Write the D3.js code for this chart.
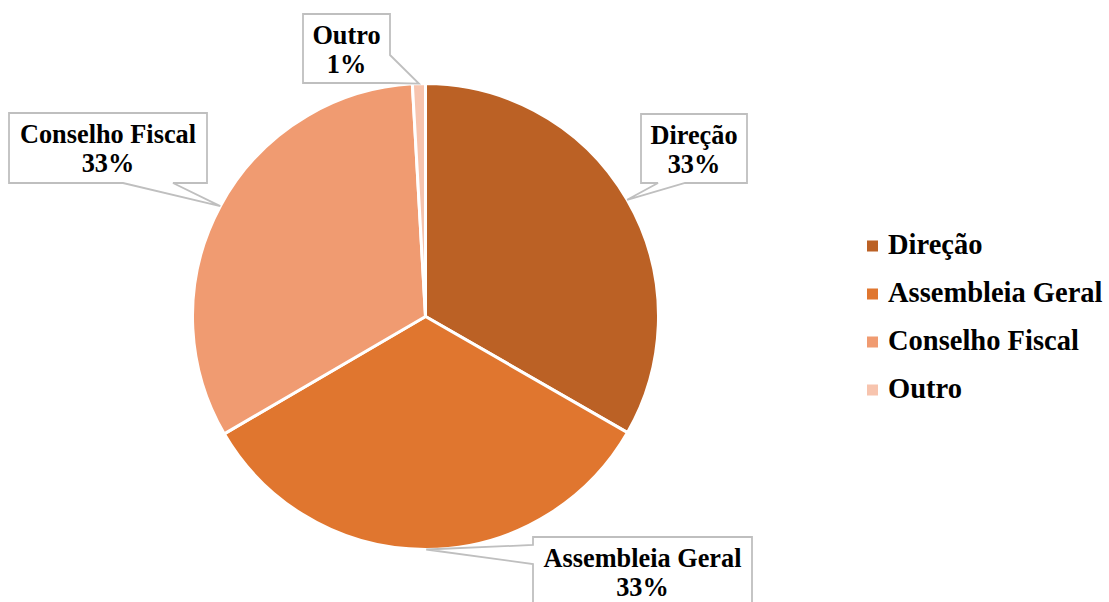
<!DOCTYPE html>
<html>
<head>
<meta charset="utf-8">
<script src="https://cdn.jsdelivr.net/npm/d3@7"></script>
<style>
  html, body { margin: 0; padding: 0; background: #fff; }
  svg { display: block; }
  text { font-family: "Liberation Serif", "Times New Roman", serif; font-weight: bold; fill: #000; }
</style>
</head>
<body>
<svg id="chart" width="1109" height="602"></svg>
<script>
// Composition of the governing bodies (percentage shares)
const categories = ["Direção", "Assembleia Geral", "Conselho Fiscal", "Outro"];
const shares = [33.3, 33.3, 32.5, 0.9];
const palette = ["#BB6125", "#E0762F", "#F09B71", "#F7C4AE"];

// Callout boxes: rectangle plus the side and span where the pointer leaves it
const callouts = [
  { x: 641, y: 114, w: 106, h: 69, side: "bottom", a: 658, b: 685 },
  { x: 533, y: 537, w: 219, h: 69, side: "left",   a: 545, b: 564 },
  { x: 9,   y: 113, w: 198, h: 70, side: "bottom", a: 123, b: 173 },
  { x: 303, y: 14,  w: 87,  h: 69, side: "right",  a: 55,  b: 83 }
];

const svg = d3.select("#chart");
const cx = 425.5, cy = 316.5, radius = 233;

const total = d3.sum(shares);
const pie = d3.pie().sort(null).value(d => d)(shares);
const arc = d3.arc().innerRadius(0).outerRadius(radius);
const color = d3.scaleOrdinal().domain(categories).range(palette);

const g = svg.append("g").attr("transform", `translate(${cx},${cy})`);

g.selectAll("path.slice")
  .data(pie)
  .join("path")
  .attr("class", "slice")
  .attr("d", arc)
  .attr("fill", (d, i) => color(categories[i]))
  .attr("stroke", "#fff")
  .attr("stroke-width", 3)
  .attr("stroke-linejoin", "miter");

// Callout shape: box outline with a wedge pointing to the slice edge
function calloutPath(c, tx, ty) {
  const x0 = c.x, y0 = c.y, x1 = c.x + c.w, y1 = c.y + c.h;
  const p = [];
  p.push([x0, y0]);
  p.push([x1, y0]);
  if (c.side === "right") { p.push([x1, c.a]); p.push([tx, ty]); p.push([x1, c.b]); }
  p.push([x1, y1]);
  if (c.side === "bottom") { p.push([c.b, y1]); p.push([tx, ty]); p.push([c.a, y1]); }
  p.push([x0, y1]);
  if (c.side === "left") { p.push([x0, c.b]); p.push([tx, ty]); p.push([x0, c.a]); }
  return "M" + p.map(q => q.join(",")).join("L") + "Z";
}

const labels = svg.append("g");
pie.forEach((d, i) => {
  const c = callouts[i];
  const mid = (d.startAngle + d.endAngle) / 2;
  const tx = cx + radius * Math.sin(mid);
  const ty = cy - radius * Math.cos(mid);
  labels.append("path")
    .attr("d", calloutPath(c, tx, ty))
    .attr("fill", "#fff")
    .attr("stroke", "#BFBFBF")
    .attr("stroke-width", 1.8);
  const mx = c.x + c.w / 2;
  labels.append("text")
    .attr("x", mx).attr("y", c.y + 30)
    .attr("text-anchor", "middle")
    .attr("font-size", 26.3)
    .text(categories[i]);
  labels.append("text")
    .attr("x", mx).attr("y", c.y + 59)
    .attr("text-anchor", "middle")
    .attr("font-size", 26.3)
    .text(Math.round(d.value / total * 100) + "%");
});

// Legend
const legend = svg.append("g").attr("transform", "translate(867,0)");
const ly = d3.scalePoint().domain(categories).range([246, 390]);
categories.forEach(cat => {
  legend.append("rect")
    .attr("x", 0).attr("y", ly(cat) - 5.5)
    .attr("width", 11).attr("height", 11)
    .attr("fill", color(cat));
  legend.append("text")
    .attr("x", 21).attr("y", ly(cat) + 7.5)
    .attr("font-size", 28.5)
    .text(cat);
});
</script>
</body>
</html>
